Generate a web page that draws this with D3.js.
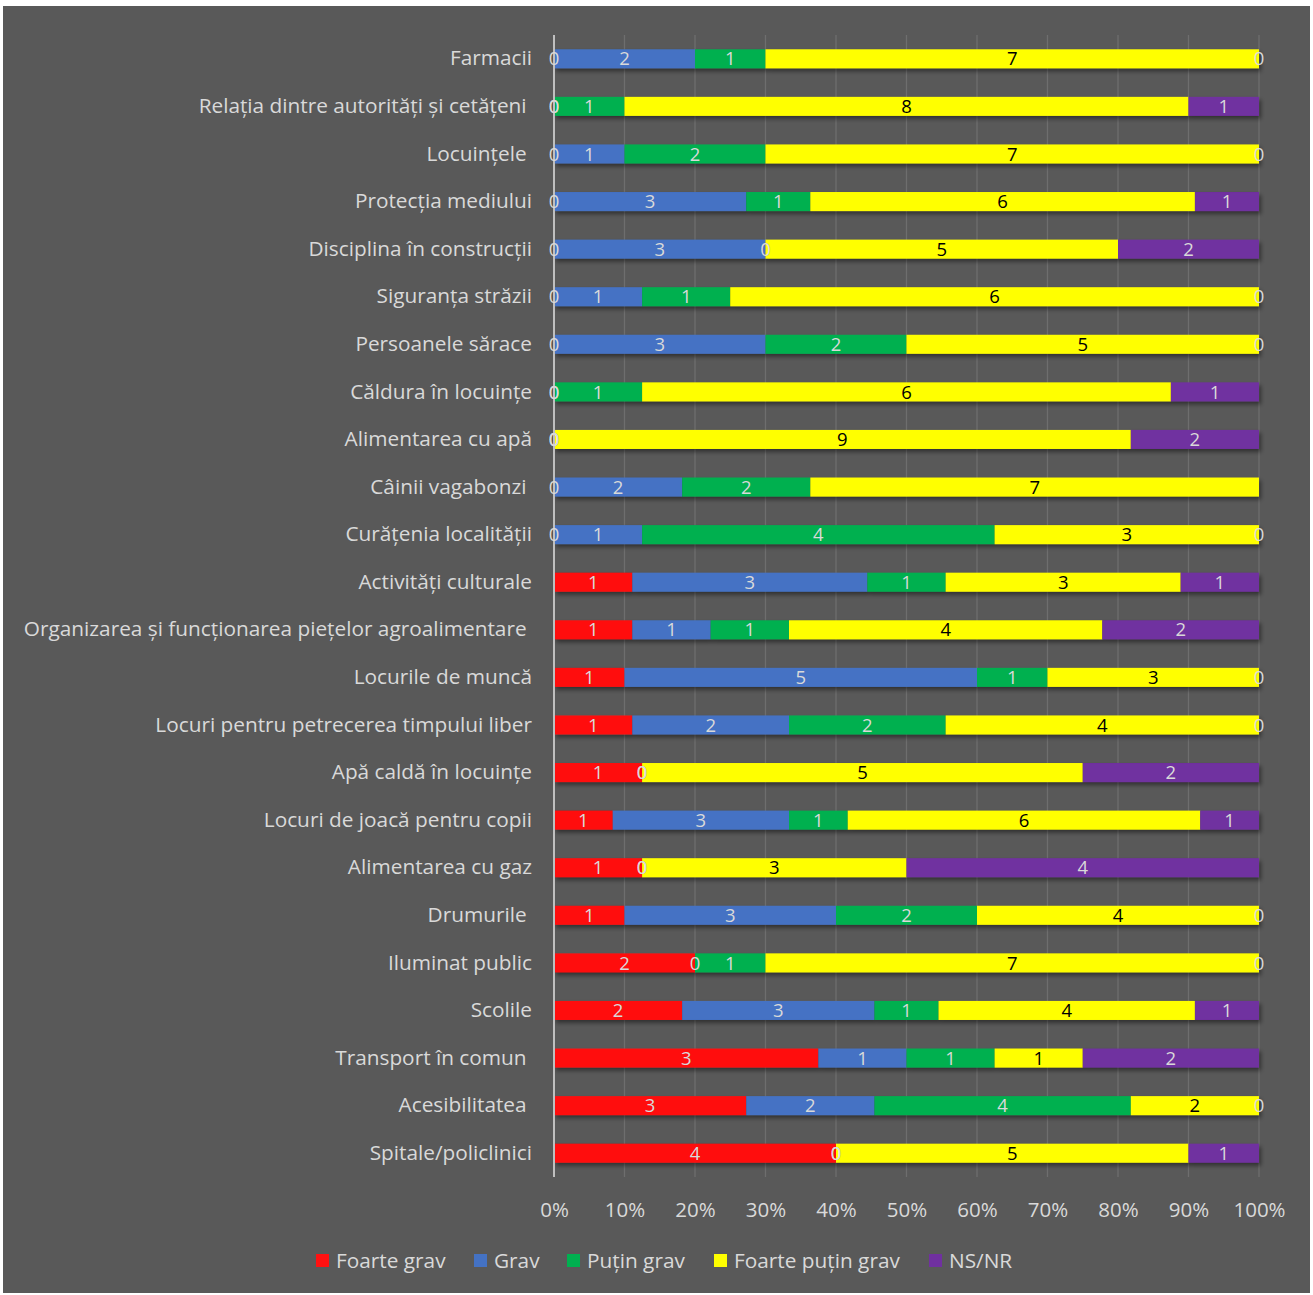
<!DOCTYPE html>
<html><head><meta charset="utf-8">
<script src="https://cdn.jsdelivr.net/npm/d3@7"></script>
<style>body{margin:0;background:#fff}</style>
</head><body>
<svg id="c" width="1313" height="1295"></svg>
<script>
const categories = ["Farmacii","Relația dintre autorități și cetățeni ","Locuințele ","Protecția mediului","Disciplina în construcții","Siguranța străzii","Persoanele sărace","Căldura în locuințe","Alimentarea cu apă","Câinii vagabonzi ","Curățenia localității","Activități culturale","Organizarea și funcționarea piețelor agroalimentare ","Locurile de muncă","Locuri pentru petrecerea timpului liber","Apă caldă în locuințe","Locuri de joacă pentru copii","Alimentarea cu gaz","Drumurile ","Iluminat public","Scolile","Transport în comun ","Acesibilitatea ","Spitale/policlinici"];
const seriesNames = ["Foarte grav","Grav","Puțin grav","Foarte puțin grav","NS/NR"];
const seriesColors = ["#ff1111","#4472c4","#00b050","#ffff00","#7030a0"];
const foarteGrav =      [0,0,0,0,0,0,0,0,0,0,0,1,1,1,1,1,1,1,1,2,2,3,3,4];
const grav =            [2,0,1,3,3,1,3,0,0,2,1,3,1,5,2,0,3,0,3,0,3,1,2,0];
const putinGrav =       [1,1,2,1,0,1,2,1,0,2,4,1,1,1,2,0,1,0,2,1,1,1,4,0];
const foartePutinGrav = [7,8,7,6,5,6,5,6,9,7,3,3,4,3,4,5,6,3,4,7,4,1,2,5];
const nsnr =            [0,1,0,1,2,0,0,1,2,null,0,1,2,0,0,2,1,4,0,0,1,2,0,1];
const ticks = [0,0.1,0.2,0.3,0.4,0.5,0.6,0.7,0.8,0.9,1];

const series = [foarteGrav,grav,putinGrav,foartePutinGrav,nsnr];
const svg = d3.select("#c");
const font = "'Open Sans', 'Noto Sans', sans-serif";
const txt = "#d9d9d9";

svg.append("rect").attr("x",3).attr("y",6).attr("width",1307).attr("height",1287).attr("fill","#595959");

const defs = svg.append("defs");
const f = defs.append("filter").attr("id","sh").attr("x","-5%").attr("y","-30%").attr("width","110%").attr("height","190%");
f.append("feDropShadow").attr("dx",2).attr("dy",3).attr("stdDeviation",2).attr("flood-color","#000").attr("flood-opacity",0.45);

const x = d3.scaleLinear().domain([0,1]).range([554,1259]);
const y = d3.scaleBand().domain(categories).range([35,1177]).paddingInner(0.6).paddingOuter(0.3);

// gridlines
svg.append("g").selectAll("line").data(ticks.slice(1)).join("line")
  .attr("x1",d=>x(d)).attr("x2",d=>x(d)).attr("y1",35).attr("y2",1177)
  .attr("stroke","#6e6e6e").attr("stroke-width",1.3);

// stacked data
const rows = categories.map((c,i)=>{
  const vals = series.map(s=>s[i]);
  const tot = d3.sum(vals, v=>v||0);
  let acc = 0;
  return vals.map((v,k)=>{ const s0=acc/tot; acc += (v||0); return {cat:c,k,v,x0:s0,x1:acc/tot}; });
});
const segs = rows.flat();

const gb = svg.append("g").attr("filter","url(#sh)");
gb.selectAll("rect").data(segs.filter(d=>d.v>0)).join("rect")
  .attr("x",d=>x(d.x0)).attr("width",d=>x(d.x1)-x(d.x0))
  .attr("y",d=>y(d.cat)).attr("height",y.bandwidth())
  .attr("fill",d=>seriesColors[d.k]);

// axis line
svg.append("line").attr("x1",x(0)).attr("x2",x(0)).attr("y1",35).attr("y2",1177)
  .attr("stroke","#bfbfbf").attr("stroke-width",2);

// data labels
svg.append("g").selectAll("text").data(segs.filter(d=>d.v!==null)).join("text")
  .attr("x",d=>x((d.x0+d.x1)/2)).attr("y",d=>y(d.cat)+y.bandwidth()/2)
  .attr("dy","0.36em").attr("text-anchor","middle")
  .attr("font-family",font).attr("font-size",18.5)
  .attr("fill",d=>(d.k===3 && d.v>0)?"#000":txt)
  .text(d=>d.v);

// category labels
const ya = d3.axisLeft(y).tickSize(0).tickPadding(22);
const gy = svg.append("g").attr("transform",`translate(${x(0)},0)`).call(ya);
gy.select(".domain").remove();
gy.selectAll("text").attr("font-family",font).attr("font-size",20.8).attr("fill",txt)
  .style("white-space","pre");

// x axis
const xa = d3.axisBottom(x).tickValues(ticks).tickFormat(d3.format(".0%")).tickSize(0).tickPadding(20);
const gx = svg.append("g").attr("transform","translate(0,1182)").call(xa);
gx.select(".domain").remove();
gx.selectAll("text").attr("font-family",font).attr("font-size",20.5).attr("fill",txt);

// legend
const legX = [316,474,567,714,929];
const lg = svg.append("g").selectAll("g").data(seriesNames).join("g")
  .attr("transform",(d,i)=>`translate(${legX[i]},1254)`);
lg.append("rect").attr("width",13).attr("height",13).attr("fill",(d,i)=>seriesColors[i]);
lg.append("text").attr("x",20).attr("y",6.5).attr("dy","0.36em")
  .attr("font-family",font).attr("font-size",20.8).attr("fill",txt).text(d=>d);
</script>
</body></html>
